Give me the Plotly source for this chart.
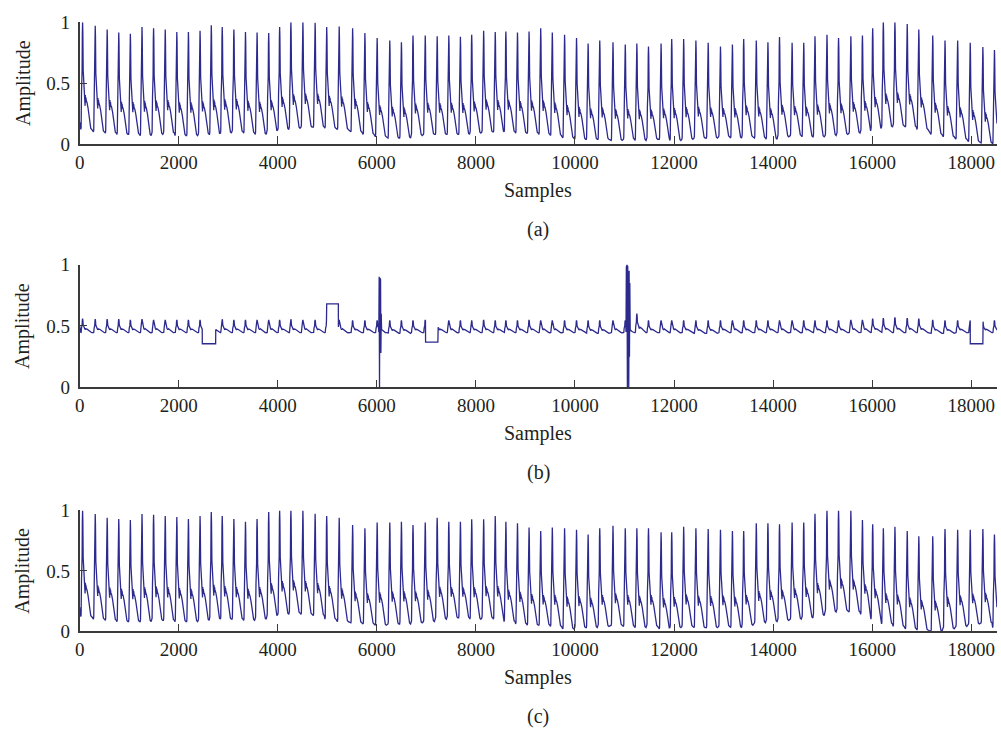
import numpy as np
import plotly.graph_objects as go

# ---- beat timing (sample index of each systolic peak), shared by the three records
peak_pos = [60, 315, 556, 790, 1024, 1259, 1493, 1728, 1962, 2196, 2431, 2658, 2879, 3114, 3348,
            3582, 3817, 4038, 4265, 4507, 4754, 4988, 5240,
            5511, 5759, 6006, 6261, 6496, 6730, 6977, 7218, 7453, 7687, 7915, 8156, 8390, 8605,
            8839, 9073, 9308, 9542, 9790, 10031, 10265, 10500, 10767, 11015, 11249, 11484, 11738,
            11953, 12194, 12441, 12689, 12937, 13178, 13406, 13660, 13895, 14129, 14383, 14618,
            14845, 15087, 15321, 15569, 15803, 16010, 16225, 16459, 16707, 16941, 17222, 17470,
            17725, 17979, 18234, 18468]

# ---- (a) original signal: peak and trough amplitude of every beat
a_peaks = [1.0, 0.97, 0.94, 0.915, 0.905, 0.96, 0.95, 0.94, 0.92, 0.92, 0.93, 0.975, 0.96, 0.94,
           0.92, 0.915, 0.91, 0.96, 1.0, 1.0, 0.995, 0.96, 0.965,
           0.95, 0.91, 0.87, 0.85, 0.836, 0.89, 0.89, 0.884, 0.89, 0.88, 0.897, 0.93, 0.92, 0.923,
           0.915, 0.923, 0.95, 0.915, 0.897, 0.87, 0.825, 0.85, 0.836, 0.817, 0.825, 0.80, 0.825,
           0.862, 0.862, 0.85, 0.83, 0.80, 0.817, 0.862, 0.85, 0.836, 0.878, 0.83, 0.83, 0.884,
           0.897, 0.87, 0.884, 0.89, 0.95, 1.0, 1.0, 0.984, 0.94, 0.89, 0.85, 0.85, 0.83, 0.796, 0.772]
a_troughs = [0.12, 0.10, 0.09, 0.08, 0.08, 0.07, 0.08, 0.09, 0.07, 0.07, 0.08, 0.08, 0.09, 0.10,
             0.09, 0.08, 0.10, 0.12, 0.13, 0.14, 0.14, 0.13, 0.12,
             0.10, 0.08, 0.06, 0.05, 0.05, 0.07, 0.08, 0.08, 0.08, 0.08, 0.09, 0.10, 0.10, 0.10,
             0.09, 0.09, 0.08, 0.07, 0.05, 0.04, 0.04, 0.04, 0.03, 0.04, 0.03, 0.04, 0.04,
             0.03, 0.04, 0.05, 0.05, 0.06, 0.05, 0.06, 0.05, 0.04, 0.06, 0.07, 0.06, 0.06, 0.07,
             0.08, 0.09, 0.10, 0.12, 0.14, 0.15, 0.14, 0.12, 0.08, 0.06, 0.04, 0.02, 0.01, 0.00]
a_start = 0.18

# ---- (b) corrupted signal
b_peaks = [0.56, 0.555, 0.555, 0.555, 0.55, 0.555, 0.55, 0.55, 0.55, 0.55, 0.55, 0.55, 0.555,
           0.55, 0.55, 0.55, 0.55, 0.55, 0.555, 0.55, 0.55, 0.55, 0.55,
           0.545, 0.545, 0.545, 0.545, 0.545, 0.545, 0.55, 0.545, 0.545, 0.545, 0.545, 0.55, 0.545,
           0.545, 0.545, 0.55, 0.545, 0.545, 0.545, 0.545, 0.545, 0.545, 0.545, 0.545, 0.60, 0.545, 0.545,
           0.545, 0.545, 0.545, 0.545, 0.545, 0.545, 0.545, 0.545, 0.545, 0.545, 0.545, 0.545, 0.545,
           0.545, 0.545, 0.55, 0.55, 0.56, 0.565, 0.57, 0.565, 0.56, 0.55, 0.545, 0.545, 0.545, 0.545, 0.545]
b_troughs = [0.445, 0.445, 0.445, 0.445, 0.445, 0.445, 0.445, 0.445, 0.445, 0.445, 0.445, 0.445,
             0.445, 0.445, 0.445, 0.445, 0.445, 0.445, 0.445, 0.445, 0.445, 0.445, 0.445,
             0.445, 0.445, 0.445, 0.44, 0.44, 0.445, 0.445, 0.445, 0.445, 0.445, 0.445, 0.445,
             0.445, 0.445, 0.445, 0.445, 0.445, 0.445, 0.445, 0.445, 0.44, 0.44, 0.445, 0.445,
             0.445, 0.445, 0.445,
             0.445, 0.445, 0.44, 0.44, 0.445, 0.445, 0.445, 0.445, 0.445, 0.445, 0.445, 0.445,
             0.445, 0.445, 0.445, 0.445, 0.445, 0.445, 0.445, 0.445, 0.445, 0.445, 0.44, 0.44,
             0.445, 0.445, 0.445, 0.445]
b_start = 0.50
# flat dropouts: start sample, end sample, held level
drop_start = [2477, 4988, 6984, 17980]
drop_end = [2746, 5223, 7232, 18234]
drop_level = [0.355, 0.68, 0.368, 0.355]
# motion-artifact bursts
burst1_x = [6040, 6047, 6054, 6061, 6068, 6075, 6082, 6089, 6095]
burst1_y = [0.45, 0.90, 0.0, 0.89, 0.02, 0.88, 0.28, 0.60, 0.46]
burst2_x = [11030, 11037, 11044, 11051, 11058, 11065, 11072, 11079, 11086, 11093, 11100, 11107, 11115]
burst2_y = [0.45, 0.98, 0.0, 1.0, 0.0, 0.99, 0.02, 0.97, 0.0, 0.95, 0.25, 0.85, 0.46]

# ---- (c) reconstructed signal
c_peaks = [1.0, 0.97, 0.94, 0.93, 0.92, 0.97, 0.965, 0.955, 0.946, 0.93, 0.955, 0.987, 0.955,
           0.93, 0.906, 0.93, 0.987, 1.0, 1.0, 1.0, 0.973, 0.955, 0.94,
           0.88, 0.853, 0.90, 0.90, 0.906, 0.88, 0.90, 0.94, 0.906, 0.906, 0.928, 0.928, 0.955,
           0.906, 0.893, 0.858, 0.83, 0.858, 0.853, 0.84, 0.80, 0.853, 0.874, 0.853, 0.853, 0.853, 0.82,
           0.82, 0.866, 0.853, 0.847, 0.84, 0.83, 0.83, 0.893, 0.893, 0.885, 0.90, 0.90, 0.973,
           1.0, 1.0, 1.0, 0.92, 0.885, 0.853, 0.866, 0.83, 0.786, 0.786, 0.847, 0.84, 0.84, 0.847, 0.80]
c_troughs = [0.12, 0.10, 0.09, 0.08, 0.08, 0.08, 0.09, 0.09, 0.08, 0.08, 0.09, 0.10, 0.10, 0.10,
             0.09, 0.10, 0.12, 0.14, 0.15, 0.14, 0.13, 0.10, 0.08,
             0.07, 0.06, 0.05, 0.06, 0.06, 0.07, 0.08, 0.10, 0.11, 0.11, 0.10, 0.11, 0.10, 0.08,
             0.06, 0.05, 0.05, 0.04, 0.02, 0.03, 0.03, 0.04, 0.05, 0.04, 0.03, 0.04, 0.02,
             0.03, 0.04, 0.03, 0.03, 0.04, 0.03, 0.05, 0.07, 0.08, 0.09, 0.10, 0.11, 0.13, 0.16,
             0.17, 0.16, 0.14, 0.10, 0.06, 0.04, 0.02, 0.01, 0.00, 0.02, 0.04, 0.06, 0.07, 0.03]
c_start = 0.20

# normalised pulse shape: sample offset from the peak, relative height (0 = trough, 1 = peak)
pulse_offset = [-36, -30, -22, -16, -10, -5, 0, 5, 12, 20, 28, 36, 44, 50, 55, 60, 66, 74, 90,
                110, 130, 150, 165, 185]
pulse_shape = [0.0, 0.02, 0.35, 0.45, 0.55, 0.90, 1.0, 0.90, 0.55, 0.45, 0.40, 0.33, 0.28, 0.22,
               0.32, 0.25, 0.30, 0.27, 0.25, 0.20, 0.12, 0.05, 0.01, 0.0]

X_MAX = 18520
X_TICKS = [0, 2000, 4000, 6000, 8000, 10000, 12000, 14000, 16000, 18000]
X_TICK_TEXT = ["0", "2000", "4000", "6000", "8000", "10000", "12000", "14000", "16000", "18000"]
Y_TICKS = [0, 0.5, 1]
Y_TICK_TEXT = ["0", "0.5", "1"]
LINE_COLOR = "#2d2a8e"
TEXT_COLOR = "#231f20"
FONT = "Liberation Serif"


def build_signal(start, peaks, troughs):
    xs, ys = [0.0], [start]
    off = np.array(pulse_offset, dtype=float)
    shp = np.array(pulse_shape, dtype=float)
    for i, (p, pk, tr) in enumerate(zip(peak_pos, peaks, troughs)):
        limit = (peak_pos[i + 1] - p + pulse_offset[0]) if i + 1 < len(peak_pos) else 1e9
        sel = off < limit
        xs.extend(p + off[sel])
        ys.extend(tr + (pk - tr) * shp[sel])
    return np.array(xs), np.array(ys)


def splice(xs, ys, x0, x1, seg_x, seg_y):
    before = xs < x0
    after = xs > x1
    return (np.concatenate([xs[before], seg_x, xs[after]]),
            np.concatenate([ys[before], seg_y, ys[after]]))


xa, ya = build_signal(a_start, a_peaks, a_troughs)
xc, yc = build_signal(c_start, c_peaks, c_troughs)
xb, yb = build_signal(b_start, b_peaks, b_troughs)
for s, e, lv in zip(drop_start, drop_end, drop_level):
    xb, yb = splice(xb, yb, s, e, [s, e], [lv, lv])
for bx, by in ((burst1_x, burst1_y), (burst2_x, burst2_y)):
    xb, yb = splice(xb, yb, bx[0], bx[-1], bx, by)

W, H = 1001, 744
PLOT_L, PLOT_R = 75, 997
panels = [  # (top px, bottom px, x, y, tag)
    (12.5, 138.0, xa, ya, "(a)"),
    (262.0, 388.3, xb, yb, "(b)"),
    (515.0, 639.3, xc, yc, "(c)"),
]

fig = go.Figure()
axis_common = dict(showgrid=False, zeroline=False, showline=True, linecolor="#3a3a3a",
                   linewidth=1.5, ticks="inside", ticklen=8, tickwidth=1.3, tickcolor="#3a3a3a",
                   tickfont=dict(family=FONT, size=19, color=TEXT_COLOR))
annotations = []
for k, (top, bot, xs, ys, tag) in enumerate(panels, start=1):
    xname = "x" if k == 1 else f"x{k}"
    yname = "y" if k == 1 else f"y{k}"
    fig.add_trace(go.Scatter(x=xs, y=ys, mode="lines", xaxis=xname, yaxis=yname,
                             line=dict(color=LINE_COLOR, width=1.3), showlegend=False,
                             hoverinfo="skip"))
    xkey = "xaxis" if k == 1 else f"xaxis{k}"
    ykey = "yaxis" if k == 1 else f"yaxis{k}"
    fig.layout[xkey] = dict(domain=[PLOT_L / W, PLOT_R / W], range=[0, X_MAX], anchor=yname,
                            tickmode="array", tickvals=X_TICKS, ticktext=X_TICK_TEXT,
                            ticklabelstandoff=0, **axis_common)
    fig.layout[ykey] = dict(domain=[1 - bot / H, 1 - top / H], range=[0, 1], anchor=xname,
                            tickmode="array", tickvals=Y_TICKS, ticktext=Y_TICK_TEXT,
                            ticklabelstandoff=4, **axis_common)
    mid = (top + bot) / 2
    annotations.append(dict(text="Amplitude", xref="paper", yref="paper", x=18 / W,
                            y=1 - mid / H, textangle=-90, showarrow=False,
                            font=dict(family=FONT, size=20, color=TEXT_COLOR),
                            xanchor="center", yanchor="middle"))
    annotations.append(dict(text="Samples", xref="paper", yref="paper",
                            x=(PLOT_L + PLOT_R) / 2 / W, y=1 - (bot + 48) / H, showarrow=False,
                            font=dict(family=FONT, size=20, color=TEXT_COLOR),
                            xanchor="center", yanchor="middle"))
    annotations.append(dict(text=tag, xref="paper", yref="paper",
                            x=(PLOT_L + PLOT_R) / 2 / W, y=1 - (bot + 88) / H, showarrow=False,
                            font=dict(family=FONT, size=20, color=TEXT_COLOR),
                            xanchor="center", yanchor="middle"))

fig.update_layout(width=W, height=H, margin=dict(l=0, r=0, t=0, b=0),
                  paper_bgcolor="white", plot_bgcolor="white", annotations=annotations)

fig.write_html("out.html")
